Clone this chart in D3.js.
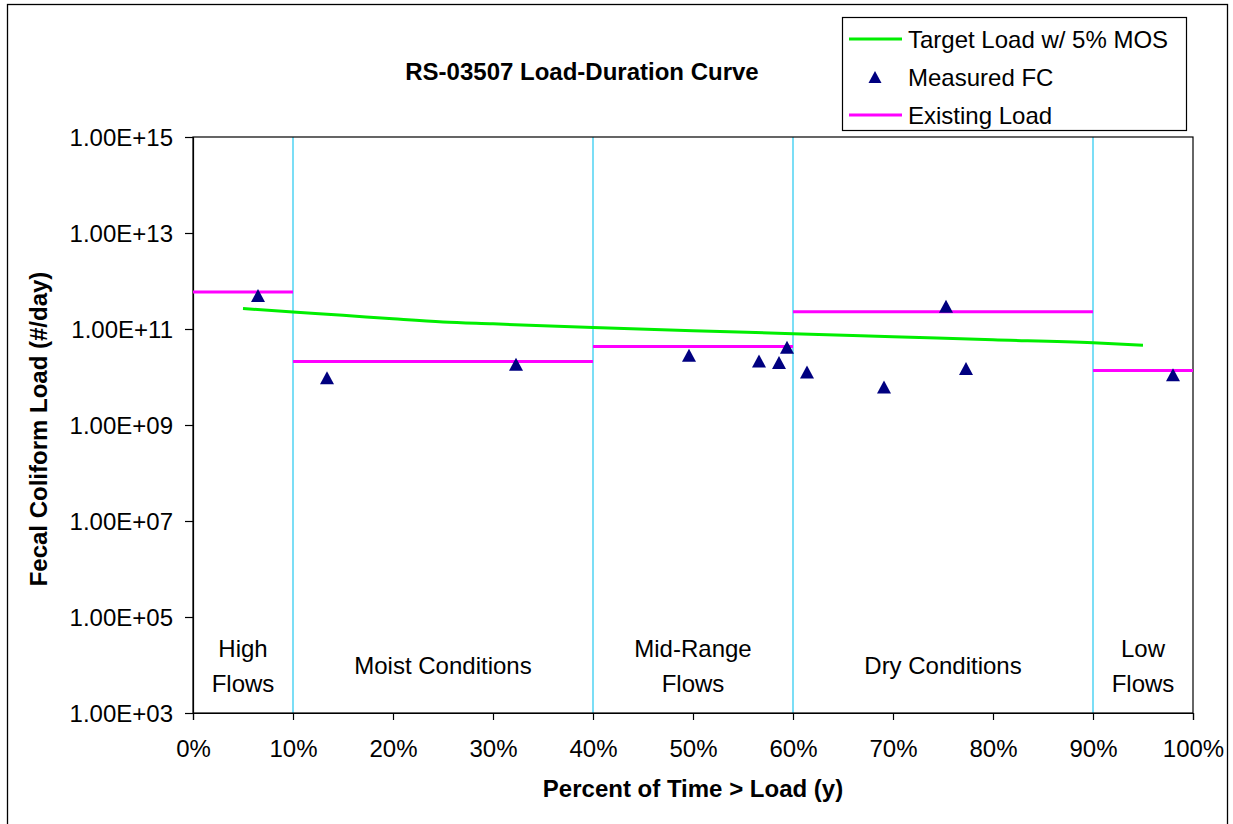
<!DOCTYPE html>
<html>
<head>
<meta charset="utf-8">
<script src="https://cdn.jsdelivr.net/npm/d3@7"></script>
<style>
  body { margin: 0; background: #fff; }
  text { font-family: Arial, "Liberation Sans", sans-serif; }
</style>
</head>
<body>
<div id="chart"></div>
<script>
// target load curve (percent of time, load #/day)
var targetX = [5, 10, 15, 20, 25, 30, 40, 50, 60, 70, 80, 90, 95];
var targetY = [2.66e11, 2.26e11, 1.93e11, 1.63e11, 1.40e11, 1.28e11, 1.07e11, 9.2e10, 8.0e10, 6.9e10, 5.95e10, 5.15e10, 4.6e10];

// measured fecal coliform samples
var measuredX = [6.5, 13.4, 32.3, 49.6, 56.6, 58.6, 59.4, 61.4, 69.1, 75.3, 77.3, 98.0];
var measuredY = [5.0e11, 9.7e9, 1.84e10, 2.83e10, 2.15e10, 2.0e10, 4.16e10, 1.27e10, 6.2e9, 2.97e11, 1.5e10, 1.12e10];

// existing load per flow zone
var zoneStart = [0, 10, 40, 60, 90];
var zoneEnd = [10, 40, 60, 90, 100];
var existingLoad = [5.9e11, 2.1e10, 4.3e10, 2.3e11, 1.36e10];
var zoneLabels = [["High", "Flows"], ["Moist Conditions"], ["Mid-Range", "Flows"], ["Dry Conditions"], ["Low", "Flows"]];
var zoneDividers = [10, 40, 60, 90];

var xTicks = [0, 10, 20, 30, 40, 50, 60, 70, 80, 90, 100];
var yTicks = [1e3, 1e5, 1e7, 1e9, 1e11, 1e13, 1e15];

var W = 1233, H = 824;
var pLeft = 193, pRight = 1193, pTop = 137, pBottom = 713;

var svg = d3.select("#chart").append("svg")
  .attr("width", W)
  .attr("height", H);

svg.append("rect")
  .attr("x", 0).attr("y", 0)
  .attr("width", W).attr("height", H)
  .attr("fill", "#fff");

// outer chart border
svg.append("rect")
  .attr("x", 7.5).attr("y", 4.5)
  .attr("width", 1220).attr("height", 840)
  .attr("fill", "none")
  .attr("stroke", "#000")
  .attr("stroke-width", 1.3);

var x = d3.scaleLinear().domain([0, 100]).range([pLeft, pRight]);
var y = d3.scaleLog().domain([1e3, 1e15]).range([pBottom, pTop]);

// zone dividers
svg.selectAll(".divider")
  .data(zoneDividers)
  .enter().append("line")
  .attr("x1", function(d){ return x(d); })
  .attr("x2", function(d){ return x(d); })
  .attr("y1", pTop)
  .attr("y2", pBottom)
  .attr("stroke", "#22c8f0")
  .attr("stroke-width", 1.2);

// plot frame
svg.append("rect")
  .attr("x", pLeft).attr("y", pTop)
  .attr("width", pRight - pLeft).attr("height", pBottom - pTop)
  .attr("fill", "none")
  .attr("stroke", "#000")
  .attr("stroke-width", 1.2);

// axes
var xAxis = d3.axisBottom(x)
  .tickValues(xTicks)
  .tickSize(7)
  .tickPadding(20)
  .tickFormat(function(d){ return d + "%"; });

var gx = svg.append("g")
  .attr("transform", "translate(0," + pBottom + ")")
  .call(xAxis);
gx.select(".domain").attr("stroke", "#000").attr("stroke-width", 1.2);
gx.selectAll(".tick line").attr("stroke", "#000").attr("stroke-width", 1.2);
gx.selectAll("text")
  .attr("font-size", "24px")
  .attr("fill", "#000")
  .style("font-family", "Arial, 'Liberation Sans', sans-serif");

var yAxis = d3.axisLeft(y)
  .tickValues(yTicks)
  .tickSize(8)
  .tickPadding(12)
  .tickFormat(function(d){
    var e = Math.round(Math.log10(d));
    return "1.00E+" + (e < 10 ? "0" + e : e);
  });

var gy = svg.append("g")
  .attr("transform", "translate(" + pLeft + ",0)")
  .call(yAxis);
gy.select(".domain").attr("stroke", "#000").attr("stroke-width", 1.2);
gy.selectAll(".tick line").attr("stroke", "#000").attr("stroke-width", 1.2);
gy.selectAll("text")
  .attr("font-size", "24px")
  .attr("fill", "#000")
  .attr("dy", "0.36em")
  .style("font-family", "Arial, 'Liberation Sans', sans-serif");

// zone labels
zoneLabels.forEach(function(lines, i){
  var cx = x((zoneStart[i] + zoneEnd[i]) / 2);
  var t = svg.append("text")
    .attr("text-anchor", "middle")
    .attr("font-size", "24px")
    .attr("fill", "#000");
  if (lines.length == 1) {
    t.append("tspan").attr("x", cx).attr("y", 674).text(lines[0]);
  } else {
    t.append("tspan").attr("x", cx).attr("y", 657).text(lines[0]);
    t.append("tspan").attr("x", cx).attr("y", 692).text(lines[1]);
  }
});

// existing load segments
svg.selectAll(".existing")
  .data(existingLoad)
  .enter().append("line")
  .attr("x1", function(d, i){ return x(zoneStart[i]); })
  .attr("x2", function(d, i){ return x(zoneEnd[i]); })
  .attr("y1", function(d){ return y(d); })
  .attr("y2", function(d){ return y(d); })
  .attr("stroke", "#ff00ff")
  .attr("stroke-width", 3);

// target load curve
var target = targetX.map(function(d, i){ return [d, targetY[i]]; });
var line = d3.line()
  .x(function(d){ return x(d[0]); })
  .y(function(d){ return y(d[1]); })
  .curve(d3.curveMonotoneX);

svg.append("path")
  .datum(target)
  .attr("d", line)
  .attr("fill", "none")
  .attr("stroke", "#00ee00")
  .attr("stroke-width", 3);

// measured points (triangles)
function tri(cx, cy, w, h){
  return "M" + cx + "," + (cy - h / 2) +
    "L" + (cx + w / 2) + "," + (cy + h / 2) +
    "L" + (cx - w / 2) + "," + (cy + h / 2) + "Z";
}

svg.selectAll(".pt")
  .data(measuredX)
  .enter().append("path")
  .attr("d", function(d, i){ return tri(x(d), y(measuredY[i]), 14, 13); })
  .attr("fill", "#000080");

// title
svg.append("text")
  .attr("x", 582)
  .attr("y", 80)
  .attr("text-anchor", "middle")
  .attr("font-size", "24px")
  .attr("font-weight", "bold")
  .attr("fill", "#000")
  .text("RS-03507 Load-Duration Curve");

// axis titles
svg.append("text")
  .attr("x", (pLeft + pRight) / 2)
  .attr("y", 797)
  .attr("text-anchor", "middle")
  .attr("font-size", "24px")
  .attr("font-weight", "bold")
  .attr("fill", "#000")
  .text("Percent of Time > Load (y)");

svg.append("text")
  .attr("transform", "translate(47," + ((pTop + pBottom) / 2 + 4) + ") rotate(-90)")
  .attr("text-anchor", "middle")
  .attr("font-size", "24px")
  .attr("font-weight", "bold")
  .attr("fill", "#000")
  .text("Fecal Coliform Load (#/day)");

// legend
var lg = svg.append("g");
lg.append("rect")
  .attr("x", 842.5).attr("y", 17.5)
  .attr("width", 344).attr("height", 113)
  .attr("fill", "#fff")
  .attr("stroke", "#000")
  .attr("stroke-width", 1.2);

var legendNames = ["Target Load w/ 5% MOS", "Measured FC", "Existing Load"];
var legendColors = ["#00ee00", "#000080", "#ff00ff"];
var legendRowY = [39, 77, 115];

legendNames.forEach(function(name, i){
  var ry = legendRowY[i];
  if (i == 1) {
    lg.append("path")
      .attr("d", tri(875, ry, 13, 12))
      .attr("fill", legendColors[i]);
  } else {
    lg.append("line")
      .attr("x1", 849).attr("x2", 902)
      .attr("y1", ry).attr("y2", ry)
      .attr("stroke", legendColors[i])
      .attr("stroke-width", 3);
  }
  lg.append("text")
    .attr("x", 908)
    .attr("y", ry + 8.5)
    .attr("font-size", "24px")
    .attr("fill", "#000")
    .text(name);
});
</script>
</body>
</html>
